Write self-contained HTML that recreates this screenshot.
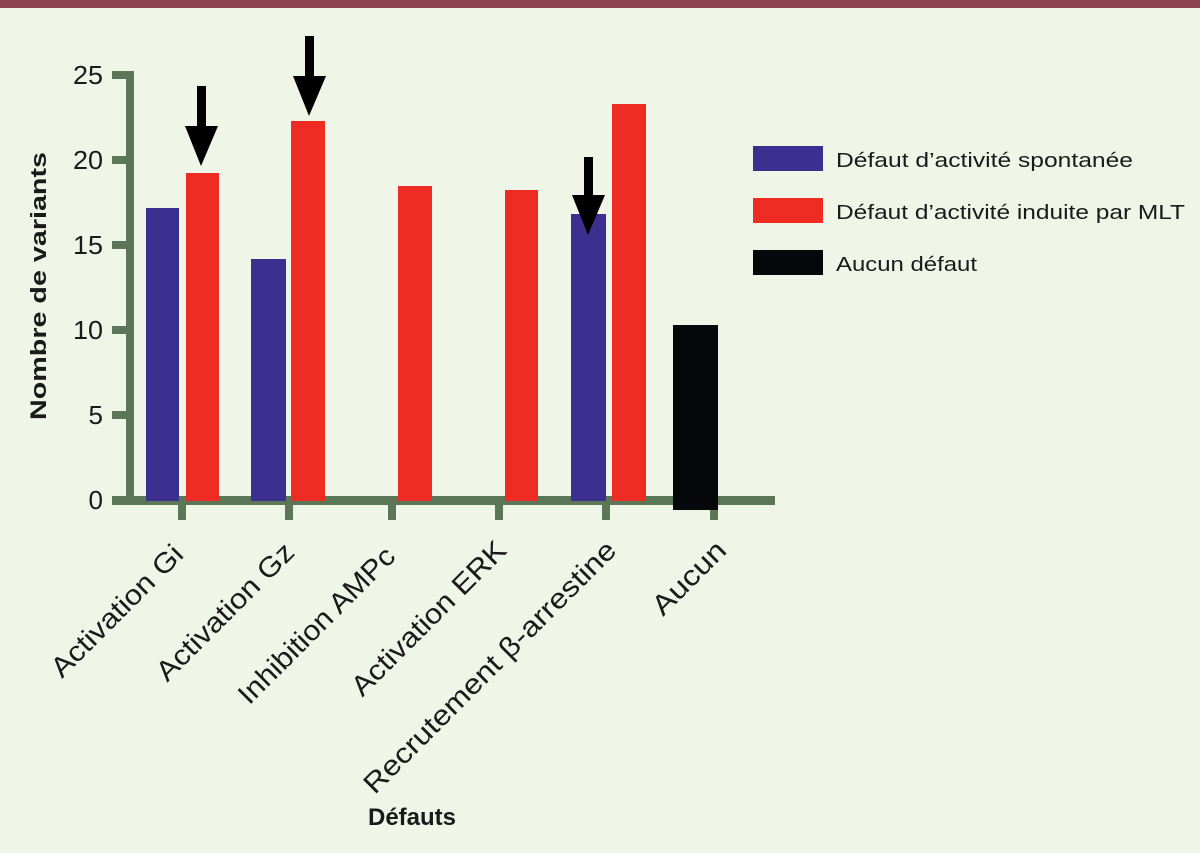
<!DOCTYPE html>
<html><head><meta charset="utf-8"><style>
html,body{margin:0;padding:0;background:#eff6e8;}
svg{display:block;}
text{font-family:"Liberation Sans",sans-serif;fill:#1a1a1a;}
</style></head><body>
<svg width="1200" height="853" viewBox="0 0 1200 853" xmlns="http://www.w3.org/2000/svg">
<rect x="0" y="0" width="1200" height="853" fill="#eff6e8"/>
<rect x="0" y="0" width="1200" height="8" fill="#8c4452"/>
<!-- axes -->
<g fill="#5b7757">
<rect x="126" y="71" width="8" height="434"/>
<rect x="112" y="71" width="16" height="8"/>
<rect x="112" y="156" width="16" height="8"/>
<rect x="112" y="241" width="16" height="8"/>
<rect x="112" y="326" width="16" height="8"/>
<rect x="112" y="411" width="16" height="8"/>
<rect x="112" y="496" width="663" height="9"/>
<rect x="178" y="500" width="8" height="20"/>
<rect x="285" y="500" width="8" height="20"/>
<rect x="388" y="500" width="8" height="20"/>
<rect x="495" y="500" width="8" height="20"/>
<rect x="602" y="500" width="8" height="20"/>
<rect x="710" y="500" width="8" height="20"/>
</g>
<g font-size="26" text-anchor="end">
<text x="103" y="84" textLength="30" lengthAdjust="spacingAndGlyphs">25</text>
<text x="103" y="169" textLength="30" lengthAdjust="spacingAndGlyphs">20</text>
<text x="103" y="254" textLength="30" lengthAdjust="spacingAndGlyphs">15</text>
<text x="103" y="339" textLength="30" lengthAdjust="spacingAndGlyphs">10</text>
<text x="103" y="424">5</text>
<text x="103" y="509">0</text>
</g>
<!-- bars -->
<g fill="#3c2f90">
<rect x="146" y="208" width="33" height="293"/>
<rect x="251" y="259" width="35" height="242"/>
<rect x="571" y="214" width="35" height="287"/>
</g>
<g fill="#ee2c24">
<rect x="186" y="173" width="33" height="328"/>
<rect x="291" y="121" width="34" height="380"/>
<rect x="398" y="186" width="34" height="315"/>
<rect x="505" y="190" width="33" height="311"/>
<rect x="612" y="104" width="34" height="397"/>
</g>
<rect x="673" y="325" width="45" height="185" fill="#05070a"/>
<!-- arrows -->
<g fill="#000">
<rect x="197" y="86" width="9" height="42"/><polygon points="185,126 218,126 201,166"/>
<rect x="305" y="36" width="9" height="42"/><polygon points="293,76 326,76 309,116"/>
<rect x="584" y="157" width="9" height="40"/><polygon points="572,195 605,195 588,235"/>
</g>
<!-- legend -->
<rect x="753" y="146" width="70" height="25" fill="#3c2f90"/>
<rect x="753" y="198" width="70" height="25" fill="#ee2c24"/>
<rect x="753" y="250" width="70" height="25" fill="#05070a"/>
<g font-size="20">
<text x="836" y="167" textLength="297" lengthAdjust="spacingAndGlyphs">Défaut d’activité spontanée</text>
<text x="836" y="219" textLength="349" lengthAdjust="spacingAndGlyphs">Défaut d’activité induite par MLT</text>
<text x="836" y="271" textLength="141" lengthAdjust="spacingAndGlyphs">Aucun défaut</text>
</g>
<!-- y label -->
<text transform="translate(46,286) rotate(-90)" font-size="22" font-weight="bold" text-anchor="middle" textLength="268" lengthAdjust="spacingAndGlyphs">Nombre de variants</text>
<!-- x labels -->
<g font-size="28" text-anchor="end">
<text transform="translate(185,556) rotate(-45)" textLength="174" lengthAdjust="spacingAndGlyphs">Activation Gi</text>
<text transform="translate(296,554) rotate(-45)" textLength="182" lengthAdjust="spacingAndGlyphs">Activation Gz</text>
<text transform="translate(397,558) rotate(-45)" textLength="209" lengthAdjust="spacingAndGlyphs">Inhibition AMPc</text>
<text transform="translate(508,552) rotate(-45)" textLength="206" lengthAdjust="spacingAndGlyphs">Activation ERK</text>
<text transform="translate(618,552) rotate(-45)" textLength="344" lengthAdjust="spacingAndGlyphs">Recrutement β-arrestine</text>
<text transform="translate(728,552) rotate(-45)" textLength="92" lengthAdjust="spacingAndGlyphs">Aucun</text>
</g>
<text x="412" y="825" font-size="24" font-weight="bold" text-anchor="middle">Défauts</text>
</svg>
</body></html>
